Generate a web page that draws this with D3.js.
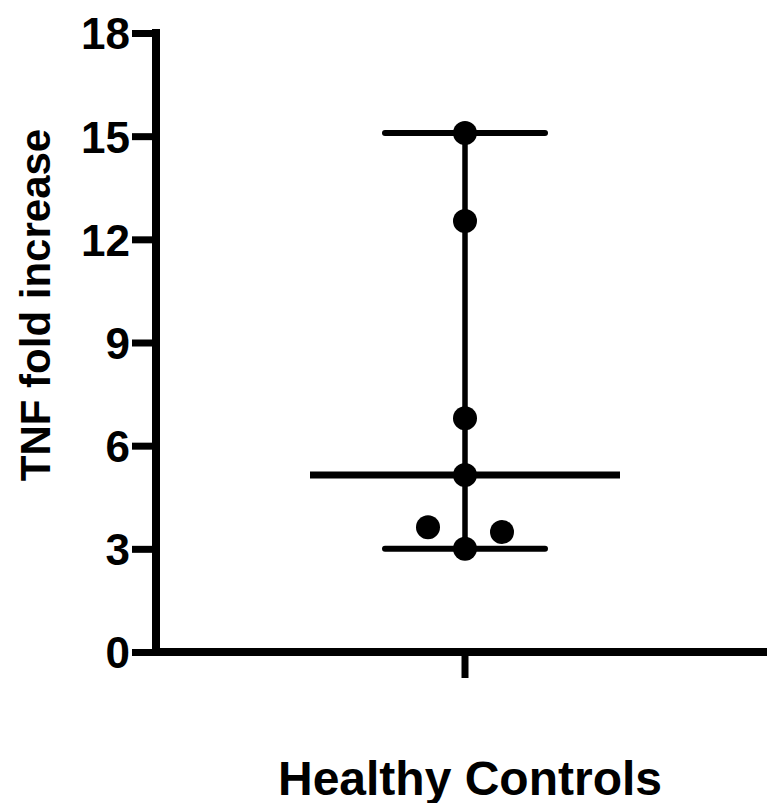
<!DOCTYPE html>
<html>
<head>
<meta charset="utf-8">
<script src="https://cdn.jsdelivr.net/npm/d3@7"></script>
<style>
  html, body { margin: 0; padding: 0; background: #fff; }
  svg { display: block; }
  text { font-family: "Liberation Sans", Arial, Helvetica, sans-serif; font-weight: bold; fill: #000; }
</style>
</head>
<body>
<svg id="chart"></svg>
<script>
const width = 767;
const height = 803;

// data
const categories = ['Healthy Controls'];
const tnfValues = [3.0, 3.49, 3.63, 5.15, 6.8, 12.53, 15.09];
const yTicks = [0, 3, 6, 9, 12, 15, 18];
const yLabel = 'TNF fold increase';

const svg = d3.select('#chart')
  .attr('width', width)
  .attr('height', height);

const y = d3.scaleLinear()
  .domain([0, 18])
  .range([652, 33]);

const x = d3.scaleBand()
  .domain(categories)
  .range([156, 774]);

const cx = x(categories[0]) + x.bandwidth() / 2;

// y axis
const yAxis = svg.append('g')
  .attr('transform', 'translate(156,0)')
  .call(d3.axisLeft(y).tickValues(yTicks).tickSize(24).tickSizeOuter(0).tickPadding(2));

yAxis.select('.domain')
  .attr('stroke', '#000')
  .attr('stroke-width', 8)
  .attr('d', `M0,${y(18) - 4}V${y(0) + 4}`);
yAxis.selectAll('.tick line')
  .attr('stroke', '#000')
  .attr('stroke-width', 7);
yAxis.selectAll('.tick text')
  .style('font-size', '44px')
  .attr('dy', '0.36em');

// x axis
const xAxis = svg.append('g')
  .attr('transform', `translate(0,${y(0)})`)
  .call(d3.axisBottom(x).tickSize(26).tickSizeOuter(0).tickFormat(''));

xAxis.select('.domain')
  .attr('stroke', '#000')
  .attr('stroke-width', 8)
  .attr('d', `M152,0H${width + 10}`);
xAxis.selectAll('.tick line')
  .attr('stroke', '#000')
  .attr('stroke-width', 7);

svg.append('text')
  .attr('x', cx + 5)
  .attr('y', 795)
  .attr('text-anchor', 'middle')
  .style('font-size', '48px')
  .text(categories[0]);

svg.append('text')
  .attr('transform', 'rotate(-90)')
  .attr('x', -305)
  .attr('y', 50)
  .attr('text-anchor', 'middle')
  .style('font-size', '42px')
  .text(yLabel);

// summary: median with range
const sorted = tnfValues.slice().sort(d3.ascending);
const lo = d3.min(sorted), hi = d3.max(sorted), med = d3.median(sorted);

const g = svg.append('g');
g.append('line')
  .attr('x1', cx).attr('x2', cx)
  .attr('y1', y(hi)).attr('y2', y(lo))
  .attr('stroke', '#000').attr('stroke-width', 5.5);

[[hi, 80, 6], [lo, 80, 6], [med, 155, 7]].forEach(([v, half, w]) => {
  g.append('line')
    .attr('x1', cx - half).attr('x2', cx + half)
    .attr('y1', y(v)).attr('y2', y(v))
    .attr('stroke', '#000').attr('stroke-width', w)
    .attr('stroke-linecap', v === med ? 'butt' : 'round');
});

// scatter points, spread sideways where they would overlap
const r = 12;
const step = 37;
const placed = [];
sorted.forEach(v => {
  const py = y(v);
  const tries = [0, 1, -1, 2, -2];
  for (const k of tries) {
    const px = cx + k * step;
    if (placed.every(p => Math.hypot(p.x - px, p.y - py) >= 2 * r)) {
      placed.push({ x: px, y: py });
      break;
    }
  }
});

g.selectAll('circle')
  .data(placed)
  .enter()
  .append('circle')
  .attr('cx', d => d.x)
  .attr('cy', d => d.y)
  .attr('r', r)
  .attr('fill', '#000');
</script>
</body>
</html>
